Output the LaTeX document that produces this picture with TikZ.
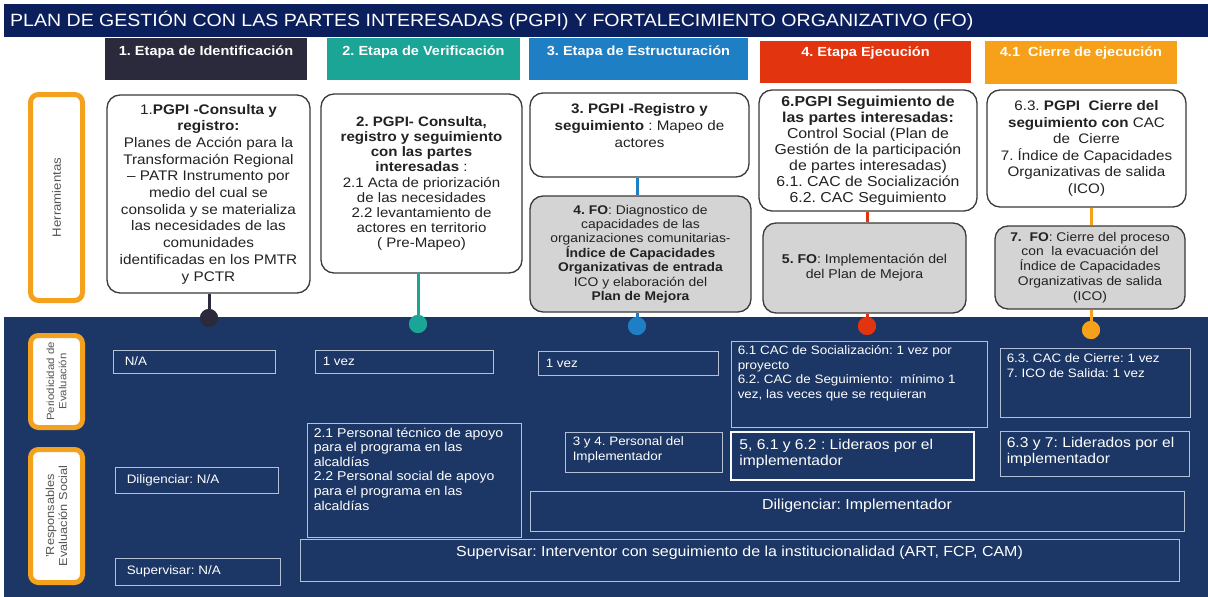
\documentclass[tikz,border=0pt]{standalone}
\usepackage{fontspec}
\setmainfont{Liberation Sans}[FakeStretch=1.1]
\usetikzlibrary{calc}
\definecolor{titlenavy}{HTML}{0B1F5C}
\definecolor{tabone}{HTML}{2A2A3C}
\definecolor{tabtwo}{HTML}{1AA596}
\definecolor{tabthree}{HTML}{1E7FC5}
\definecolor{tabfour}{HTML}{E2340F}
\definecolor{tabfive}{HTML}{F7A11A}
\definecolor{orangeframe}{HTML}{F4A11E}
\definecolor{grayfill}{HTML}{D4D4D4}
\definecolor{navybg}{HTML}{1C3765}
\definecolor{thinline}{HTML}{B4C0D6}
\definecolor{boxline}{HTML}{3A3A3A}
\definecolor{textdark}{HTML}{222222}
\definecolor{labelgray}{HTML}{555555}
\frenchspacing
\begin{document}
\begin{tikzpicture}[x=1pt,y=-1pt,
  tabbox/.style={draw=none,inner sep=0pt,outer sep=0pt},
  tabtxt/.style={anchor=north,inner sep=0pt,text=white,font=\fontsize{13.2}{14}\selectfont\bfseries},
  wbox/.style={draw=boxline,line width=1.3pt,rounded corners=13pt,fill=white,align=center,
    text=textdark,inner sep=0pt,font=\fontsize{13.6}{15.6}\selectfont},
  gbox/.style={wbox,fill=grayfill,font=\fontsize{12.6}{14.4}\selectfont},
  oframe/.style={draw=orangeframe,line width=5pt,rounded corners=8pt,fill=white,inner sep=0pt},
  olabel/.style={rotate=90,align=center,text=labelgray,inner sep=0pt},
  nbox/.style={draw=thinline,line width=0.9pt,inner sep=0pt},
  ntext/.style={text=white,align=left,inner sep=0pt,font=\fontsize{12.2}{14.6}\selectfont},
  bigtext/.style={text=white,align=left,inner sep=0pt,font=\fontsize{14.2}{16}\selectfont},
  dotn/.style={circle,minimum size=18pt,inner sep=0pt},
  conn/.style={line width=3pt}
]
\useasboundingbox (0,0) rectangle (1208,597);
\fill[white] (0,0) rectangle (1208,597);
% title bar
\fill[titlenavy] (4,4) rectangle (1208,37);
\node[anchor=west,inner sep=0pt,text=white] (title) at (10,21)
  {\resizebox{963pt}{!}{\fontsize{20}{20}\selectfont PLAN DE GESTIÓN CON LAS PARTES INTERESADAS (PGPI) Y FORTALECIMIENTO ORGANIZATIVO (FO)}};
% navy lower area
\fill[navybg] (4,317) rectangle (1208,597);

% tabs
\node[tabbox,fill=tabone,minimum width=202pt,minimum height=42pt] (t1) at (206,59) {};
\node[tabbox,fill=tabtwo,minimum width=193pt,minimum height=42pt] (t2) at (423.5,59) {};
\node[tabbox,fill=tabthree,minimum width=219pt,minimum height=42pt] (t3) at (638.5,59) {};
\node[tabbox,fill=tabfour,minimum width=211pt,minimum height=42pt] (t4) at (865.5,62) {};
\node[tabbox,fill=tabfive,minimum width=192pt,minimum height=43pt] (t5) at (1081,62.5) {};
\node[tabtxt] (t1t) at ([yshift=-8pt]t1.north) {1. Etapa de Identificación};
\node[tabtxt] (t2t) at ([yshift=-8pt]t2.north) {2. Etapa de Verificación};
\node[tabtxt] (t3t) at ([yshift=-8pt]t3.north) {3. Etapa de Estructuración};
\node[tabtxt] (t4t) at ([yshift=-6pt]t4.north) {4. Etapa Ejecución};
\node[tabtxt] (t5t) at ([yshift=-6pt]t5.north) {4.1~ Cierre de ejecución};

% orange frames
\node[oframe,minimum width=52pt,minimum height=206pt] (oh) at (56.5,197.5) {};
\node[olabel,font=\fontsize{12}{14}\selectfont] (oht) at (oh.center) {Herramientas};
\node[oframe,minimum width=52pt,minimum height=92pt] (op) at (56.5,381.5) {};
\node[olabel,font=\fontsize{10.4}{12.2}\selectfont] (opt) at (op.center) {Periodicidad de\\Evaluación};
\node[oframe,minimum width=52pt,minimum height=133pt] (orr) at (56.5,516) {};
\node[olabel,font=\fontsize{11.6}{13.2}\selectfont] (orrt) at (orr.center) {'Responsables\\Evaluación Social};

% dots
\node[dotn,fill=tabone] (d1) at (209,318) {};
\node[dotn,fill=tabtwo] (d2) at (418,324) {};
\node[dotn,fill=tabthree] (d3) at (637,326) {};
\node[dotn,fill=tabfour] (d4) at (867,326) {};
\node[dotn,fill=tabfive] (d5) at (1091,330) {};

% white/gray boxes
\node[wbox,minimum width=203pt,minimum height=198pt,font=\fontsize{13.9}{16.7}\selectfont] (b1) at (208.5,194) {1.\textbf{PGPI -Consulta y}\\ \textbf{registro:}\\ Planes de Acción para la\\ Transformación Regional\\ – PATR Instrumento por\\ medio del cual se\\ consolida y se materializa\\ las necesidades de las\\ comunidades\\ identificadas en los PMTR\\ y PCTR};
\node[wbox,minimum width=201pt,minimum height=179pt,font=\fontsize{13.7}{15.2}\selectfont] (b2) at (421.5,183.5) {\textbf{2. PGPI- Consulta,}\\ \textbf{registro y seguimiento}\\ \textbf{con las partes}\\ \textbf{interesadas} :\\ 2.1 Acta de priorización\\ de las necesidades\\ 2.2 levantamiento de\\ actores en territorio\\ ( Pre-Mapeo)};
\node[wbox,minimum width=219pt,minimum height=84pt] (b3) at (639.5,135) {};
\node[align=center,inner sep=0pt,text=textdark,font=\fontsize{13.8}{17}\selectfont] (b3t) at ([yshift=9pt]b3.center) {\textbf{3. PGPI -Registro y}\\ \textbf{seguimiento} : Mapeo de\\ actores};
\node[gbox,minimum width=221pt,minimum height=116pt] (b4) at (640.5,254) {\textbf{4. FO}: Diagnostico de\\ capacidades de las\\ organizaciones comunitarias-\\ \textbf{Índice de Capacidades}\\ \textbf{Organizativas de entrada}\\ ICO y elaboración del\\ \textbf{Plan de Mejora}};
\node[wbox,minimum width=218pt,minimum height=121pt,font=\fontsize{14.4}{16}\selectfont] (b6) at (868,150.5) {\textbf{6.PGPI Seguimiento de}\\ \textbf{las partes interesadas:}\\ Control Social (Plan de\\ Gestión de la participación\\ de partes interesadas)\\ 6.1. CAC de Socialización\\ 6.2. CAC Seguimiento};
\node[gbox,minimum width=203pt,minimum height=90pt,font=\fontsize{12.8}{15}\selectfont] (b5) at (864.5,268) {\textbf{5. FO}: Implementación del\\ del Plan de Mejora};
\node[wbox,minimum width=199pt,minimum height=117pt,font=\fontsize{13.8}{16.5}\selectfont] (b63) at (1086.5,148.5) {6.3. \textbf{PGPI~ Cierre del}\\ \textbf{seguimiento con} CAC\\ de~ Cierre\\ 7. Índice de Capacidades\\ Organizativas de salida\\ (ICO)};
\node[gbox,minimum width=190pt,minimum height=83pt,font=\fontsize{12.6}{14.8}\selectfont] (b7) at (1090,267.5) {\textbf{7.~ FO}: Cierre del proceso\\ con~ la evacuación del\\ Índice de Capacidades\\ Organizativas de salida\\ (ICO)};

% connectors
\draw[conn,tabone] (d1 |- b1.south) -- (d1);
\draw[conn,tabtwo] (d2 |- b2.south) -- (d2);
\draw[conn,tabthree] (d3 |- b3.south) -- (d3 |- b4.north);
\draw[conn,tabthree] (d3 |- b4.south) -- (d3);
\draw[conn,tabfour] (d4 |- b6.south) -- (d4 |- b5.north);
\draw[conn,tabfour] (d4 |- b5.south) -- (d4);
\draw[conn,tabfive] (d5 |- b63.south) -- (d5 |- b7.north);
\draw[conn,tabfive] (d5 |- b7.south) -- (d5);
\node[dotn,fill=tabone] (d1b) at (d1) {};
\node[dotn,fill=tabtwo] (d2b) at (d2) {};
\node[dotn,fill=tabthree] (d3b) at (d3) {};
\node[dotn,fill=tabfour] (d4b) at (d4) {};
\node[dotn,fill=tabfive] (d5b) at (d5) {};

% periodicidad row
\node[nbox,minimum width=162pt,minimum height=23pt] (p1) at (194,361.5) {};
\node[ntext,anchor=west] (p1t) at ([xshift=12pt]p1.west) {N/A};
\node[nbox,minimum width=178pt,minimum height=23pt] (p2) at (404,361.5) {};
\node[ntext,anchor=west] (p2t) at ([xshift=8pt]p2.west) {1 vez};
\node[nbox,minimum width=180pt,minimum height=24pt] (p3) at (628,363) {};
\node[ntext,anchor=west] (p3t) at ([xshift=8pt]p3.west) {1 vez};
\node[nbox,minimum width=256pt,minimum height=86pt] (p4) at (859,384) {};
\node[ntext,anchor=north west] (p4t) at ([xshift=7pt,yshift=-5pt]p4.north west) {6.1 CAC de Socialización: 1 vez por\\proyecto\\6.2. CAC de Seguimiento:~ mínimo 1\\vez, las veces que se requieran};
\node[nbox,minimum width=190pt,minimum height=69pt] (p5) at (1095,382.5) {};
\node[ntext,anchor=north west] (p5t) at ([xshift=7pt,yshift=-6pt]p5.north west) {6.3. CAC de Cierre: 1 vez\\7. ICO de Salida: 1 vez};

% responsables row
\node[nbox,minimum width=163pt,minimum height=26pt] (r1) at (196.5,480) {};
\node[ntext,anchor=west] (r1t) at ([xshift=12pt]r1.west) {Diligenciar: N/A};
\node[nbox,minimum width=165pt,minimum height=27pt] (r2) at (197.5,571.5) {};
\node[ntext,anchor=west] (r2t) at ([xshift=12pt]r2.west) {Supervisar: N/A};
\node[nbox,minimum width=214pt,minimum height=114pt] (r3) at (414,480) {};
\node[ntext,anchor=north west,font=\fontsize{12.8}{14.6}\selectfont] (r3t) at ([xshift=7pt,yshift=-5pt]r3.north west) {2.1 Personal técnico de apoyo\\para el programa en las\\alcaldías\\2.2 Personal social de apoyo\\para el programa en las\\alcaldías};
\node[nbox,minimum width=157pt,minimum height=40pt] (r4) at (643.5,452) {};
\node[ntext,anchor=north west] (r4t) at ([xshift=8pt,yshift=-5pt]r4.north west) {3 y 4. Personal del\\Implementador};
\node[nbox,draw=white!92!thinline,line width=1.6pt,minimum width=243pt,minimum height=48pt] (r5) at (852.5,456) {};
\node[bigtext,anchor=north west] (r5t) at ([xshift=9pt,yshift=-8pt]r5.north west) {5, 6.1 y 6.2 : Lideraos por el\\implementador};
\node[nbox,minimum width=189pt,minimum height=45pt] (r6) at (1094.5,453.5) {};
\node[bigtext,anchor=north west] (r6t) at ([xshift=7pt,yshift=-6pt]r6.north west) {6.3 y 7: Liderados por el\\implementador};
\node[nbox,minimum width=654pt,minimum height=40pt] (r7) at (857,511) {};
\node[bigtext,anchor=north,font=\fontsize{14.5}{16}\selectfont] (r7t) at ([yshift=-8pt]r7.north) {Diligenciar: Implementador};
\node[nbox,minimum width=879pt,minimum height=42pt] (r8) at (739.5,560) {};
\node[bigtext,anchor=north,font=\fontsize{14.5}{16}\selectfont] (r8t) at ([yshift=-7pt]r8.north) {Supervisar: Interventor con seguimiento de la institucionalidad (ART, FCP, CAM)};
\end{tikzpicture}
\end{document}
